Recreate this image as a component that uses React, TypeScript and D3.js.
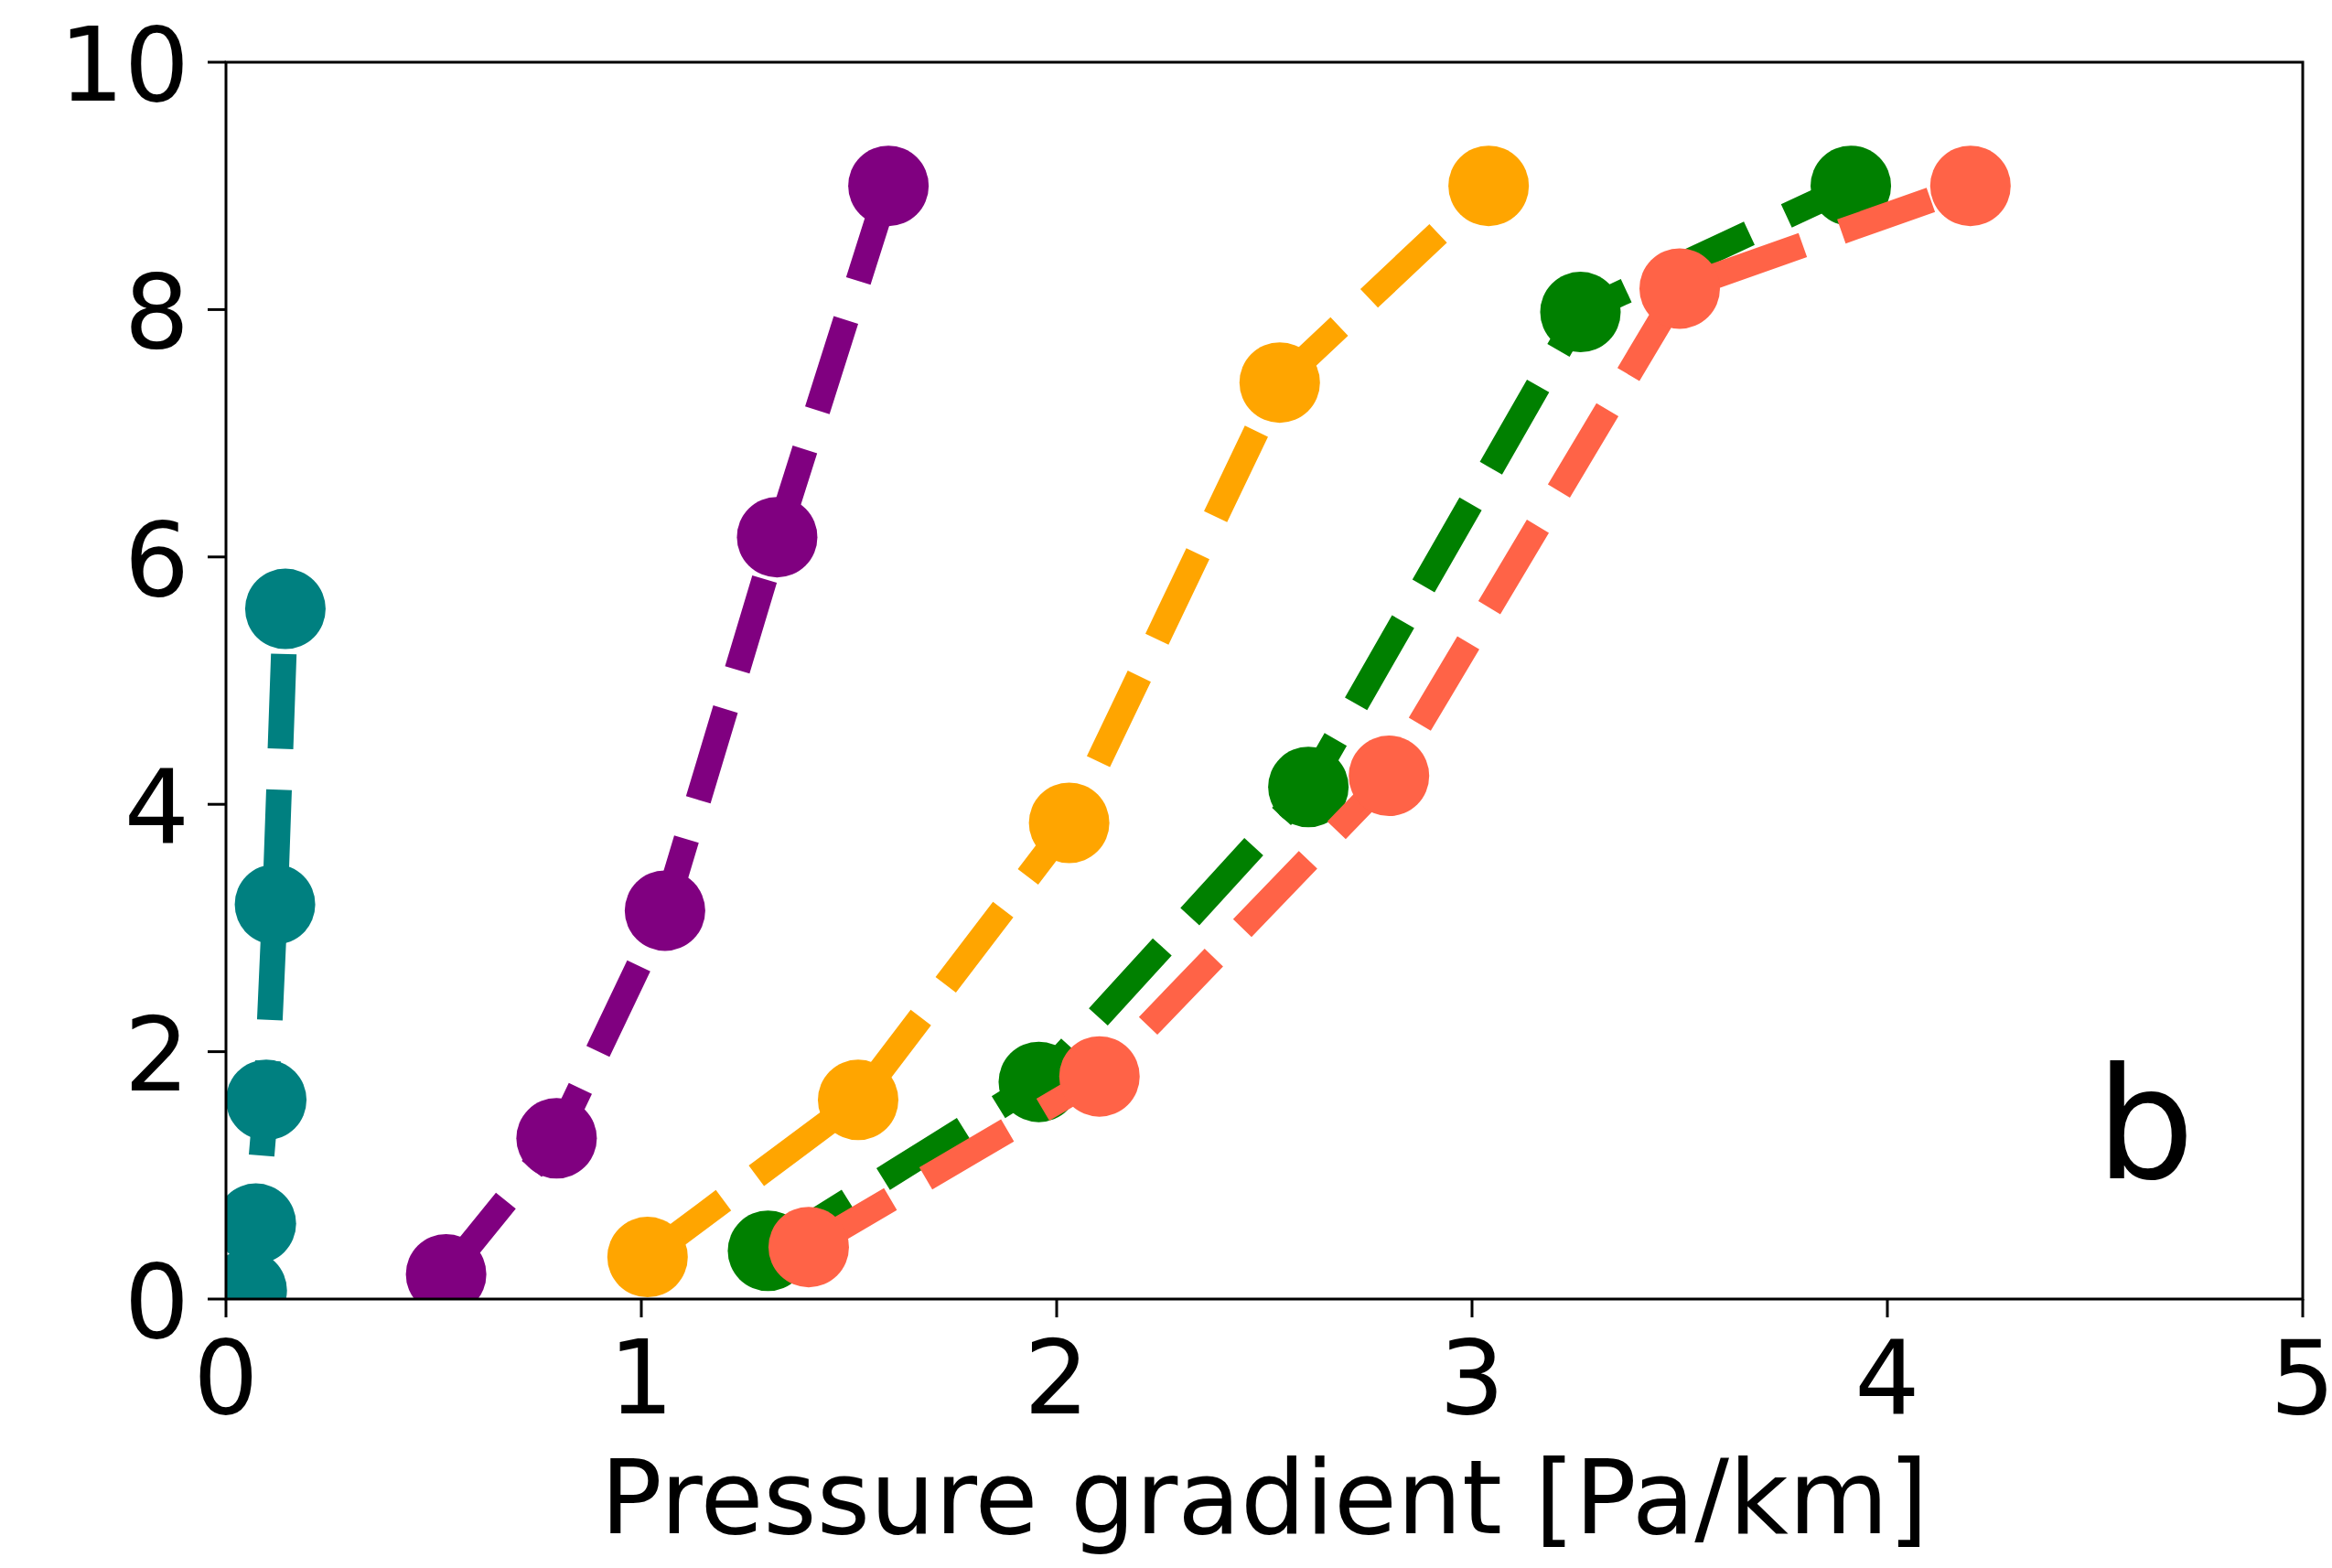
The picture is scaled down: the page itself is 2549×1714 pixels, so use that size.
import React, { useEffect } from "react";
import * as d3 from "d3";

const tealX = [0.05, 0.072, 0.097, 0.118, 0.143];
const tealY = [0.07, 0.61, 1.61, 3.19, 5.58];
const purpleX = [0.53, 0.796, 1.057, 1.327, 1.595];
const purpleY = [0.2, 1.3, 3.14, 6.16, 9.0];
const orangeX = [1.015, 1.522, 2.03, 2.537, 3.04];
const orangeY = [0.34, 1.61, 3.85, 7.41, 9.0];
const greenX = [1.305, 1.957, 2.606, 3.261, 3.912];
const greenY = [0.39, 1.755, 4.14, 7.98, 9.0];
const tomatoX = [1.403, 2.103, 2.8, 3.5, 4.2];
const tomatoY = [0.42, 1.8, 4.23, 8.17, 9.0];

const seriesNames = ["teal", "purple", "orange", "green", "tomato"];
const seriesColors = ["#008080", "#800080", "#FFA500", "#008000", "#FF6347"];
const seriesXs = [tealX, purpleX, orangeX, greenX, tomatoX];
const seriesYs = [tealY, purpleY, orangeY, greenY, tomatoY];

const xTicks = [0, 1, 2, 3, 4, 5];
const yTicks = [0, 2, 4, 6, 8, 10];
const xLabel = "Pressure gradient [Pa/km]";
const panelLabel = "b";

const W = 2549;
const H = 1714;
const L = 247, R = 2517, T = 68, B = 1420;
const FONT = "DejaVu Sans";
const FS = 112;

export default function App() {
  useEffect(() => {
    document.body.style.margin = "0";
  }, []);
  const x = d3.scaleLinear().domain([0, 5]).range([L, R]);
  const y = d3.scaleLinear().domain([0, 10]).range([B, T]);
  const lw = 28;
  const dash = `${3.7 * lw} ${1.6 * lw}`;
  const r = 44;

  const series = seriesNames.map((n, i) => ({
    name: n,
    color: seriesColors[i],
    pts: seriesXs[i].map((v, j) => [v, seriesYs[i][j]] as [number, number]),
  }));
  const line = d3.line<[number, number]>().x((d) => x(d[0])).y((d) => y(d[1]));

  return (
    <svg width={W} height={H} style={{ display: "block", background: "#fff" }}>
      <defs>
        <clipPath id="plotclip">
          <rect x={L} y={T} width={R - L} height={B - T} />
        </clipPath>
      </defs>
      <rect x={0} y={0} width={W} height={H} fill="#fff" />
      <g clipPath="url(#plotclip)">
        {series.map((s) => (
          <g key={s.name}>
            <path d={line(s.pts) || ""} fill="none" stroke={s.color} strokeWidth={lw} strokeDasharray={dash} strokeLinecap="butt" strokeLinejoin="round" />
            {s.pts.map((p, j) => (
              <circle key={j} cx={x(p[0])} cy={y(p[1])} r={r} fill={s.color} />
            ))}
          </g>
        ))}
      </g>
      <rect x={L} y={T} width={R - L} height={B - T} fill="none" stroke="#000" strokeWidth={3} />
      {xTicks.map((t) => (
        <g key={"x" + t}>
          <line x1={x(t)} x2={x(t)} y1={B} y2={B + 20} stroke="#000" strokeWidth={3} />
          <text x={x(t)} y={1545} textAnchor="middle" fontFamily={FONT} fontSize={FS} fill="#000">{t}</text>
        </g>
      ))}
      {yTicks.map((t) => (
        <g key={"y" + t}>
          <line x1={L - 20} x2={L} y1={y(t)} y2={y(t)} stroke="#000" strokeWidth={3} />
          <text x={207} y={y(t) + 42} textAnchor="end" fontFamily={FONT} fontSize={FS} fill="#000">{t}</text>
        </g>
      ))}
      <text x={(L + R) / 2} y={1676} textAnchor="middle" fontFamily={FONT} fontSize={FS} fill="#000">{xLabel}</text>
      <text x={2291} y={1288} fontFamily={FONT} fontSize={170} fill="#000">{panelLabel}</text>
    </svg>
  );
}
